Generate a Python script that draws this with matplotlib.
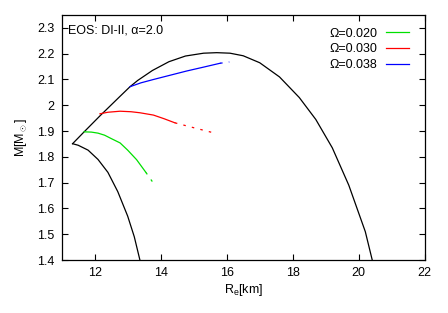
import numpy as np
import matplotlib.pyplot as plt
from matplotlib.ticker import FormatStrFormatter, MultipleLocator

plt.rcParams['font.family'] = ['Liberation Sans', 'DejaVu Sans']
plt.rcParams['mathtext.fontset'] = 'custom'
plt.rcParams['mathtext.rm'] = 'Liberation Sans'
plt.rcParams['mathtext.it'] = 'Liberation Sans:italic'
plt.rcParams['font.size'] = 9

# black boundary: lower branch (static) and upper branch
r_low = [13.37, 13.2, 13.0, 12.7, 12.4, 12.1, 11.8, 11.5, 11.33]
m_low = [1.40, 1.49, 1.57, 1.665, 1.74, 1.79, 1.826, 1.845, 1.851]
r_up = [11.33, 11.68, 12.16, 12.77, 13.07, 13.3, 13.75, 14.25, 14.75, 15.3, 15.7, 16.1,
        16.5, 17.0, 17.6, 18.2, 18.7, 19.2, 19.7, 20.2, 20.41]
m_up = [1.851, 1.897, 1.959, 2.035, 2.072, 2.096, 2.135, 2.169, 2.191, 2.202, 2.204, 2.202,
        2.192, 2.165, 2.11, 2.03, 1.945, 1.835, 1.69, 1.51, 1.40]

# rotating sequences (solid part, sparse tail)
omega_labels = ['\u03a9=0.020', '\u03a9=0.030', '\u03a9=0.038']
colors = ['#00e000', '#ff0000', '#0000ff']
r_seq = [[11.68, 11.9, 12.1, 12.3, 12.5, 12.77, 13.0, 13.27, 13.55],
         [12.16, 12.4, 12.77, 13.1, 13.37, 13.78, 14.1, 14.43],
         [13.07, 13.4, 13.78, 14.3, 14.79, 15.3, 15.8]]
m_seq = [[1.897, 1.896, 1.892, 1.884, 1.871, 1.854, 1.826, 1.789, 1.740],
         [1.967, 1.973, 1.977, 1.975, 1.971, 1.962, 1.948, 1.932],
         [2.072, 2.087, 2.100, 2.117, 2.133, 2.148, 2.163]]
r_tail = [[13.55, 13.78], [14.43, 15.0, 15.70], [15.8, 16.08]]
m_tail = [[1.740, 1.698], [1.932, 1.913, 1.890], [2.163, 2.168]]

fig = plt.figure(figsize=(4.48, 3.13), dpi=100)
ax = fig.add_axes([0.1377, 0.1693, 0.8103, 0.7827])

ax.plot(r_low, m_low, color='black', lw=0.9)
ax.plot(r_up, m_up, color='black', lw=0.9)
for i in range(3):
    ax.plot(r_seq[i], m_seq[i], color=colors[i], lw=0.9, label=omega_labels[i])
    ax.plot(r_tail[i], m_tail[i], color=colors[i], lw=0.9, linestyle=(0, (2, 5)))

ax.set_xlim(11, 22)
ax.set_ylim(1.4, 2.35)
ax.xaxis.set_major_locator(MultipleLocator(2))
ax.yaxis.set_major_locator(MultipleLocator(0.1))
ax.yaxis.set_major_formatter(FormatStrFormatter('%g'))
ax.tick_params(direction='in', top=True, right=True, length=4, width=0.8, pad=5)
for s in ax.spines.values():
    s.set_linewidth(0.9)

ax.set_xlabel(r'R$_\mathrm{e}$[km]', labelpad=2)
ax.set_ylabel(r'M[M$_\odot$]', labelpad=6)

ax.text(0.017, 0.962, 'EOS: DI-II, \u03b1=2.0', transform=ax.transAxes,
        ha='left', va='top')

ax.legend(loc='upper right', frameon=False, markerfirst=False, handlelength=1.8,
          labelspacing=0.3, handletextpad=0.7, borderaxespad=0.6,
          bbox_to_anchor=(0.99, 1.0))

fig.savefig('out.png', dpi=100)
